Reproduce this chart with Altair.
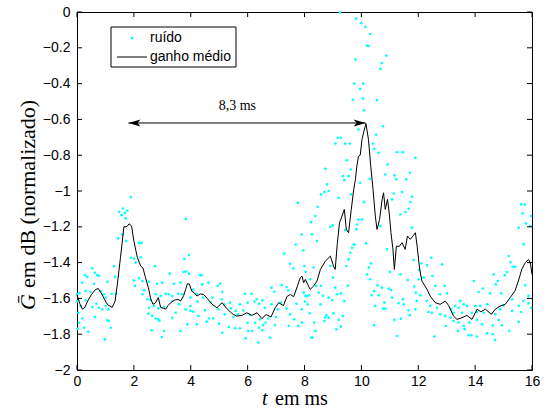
import altair as alt
import pandas as pd

# ---------------- data ----------------
line_t = [0.00, 0.10, 0.19, 0.28, 0.36, 0.50, 0.65, 0.75, 0.85, 0.95, 1.05, 1.12, 1.24, 1.34, 1.42,
          1.53, 1.65, 1.72, 1.77, 1.83, 1.92, 2.00, 2.12, 2.24, 2.32, 2.41, 2.51, 2.59, 2.67, 2.76,
          2.86, 2.94, 3.03, 3.12, 3.20, 3.29, 3.42, 3.55, 3.64, 3.75, 3.82, 3.88, 3.95, 4.04, 4.13,
          4.22, 4.33, 4.45, 4.58, 4.75, 4.92, 5.10, 5.22, 5.39, 5.50, 5.62, 5.80, 5.97, 6.15, 6.33,
          6.50, 6.65, 6.82, 6.97, 7.09, 7.26, 7.38, 7.50, 7.62, 7.76, 7.85, 7.91, 7.97, 8.03, 8.14,
          8.20, 8.32, 8.44, 8.56, 8.73, 8.91, 9.02, 9.08, 9.15, 9.23, 9.32, 9.40, 9.47, 9.55, 9.64,
          9.73, 9.79, 9.84, 9.90, 9.96, 10.02, 10.10, 10.16, 10.25, 10.33, 10.41, 10.49, 10.55, 10.64,
          10.73, 10.78, 10.84, 10.92, 10.99, 11.04, 11.11, 11.16, 11.23, 11.33, 11.43, 11.54, 11.62,
          11.72, 11.81, 11.90, 11.96, 12.05, 12.13, 12.31, 12.42, 12.60, 12.77, 12.95, 13.07, 13.24,
          13.36, 13.54, 13.71, 13.89, 14.07, 14.20, 14.36, 14.57, 14.71, 14.88, 15.06, 15.23, 15.40,
          15.52, 15.64, 15.76, 15.88, 15.94, 16.00]
line_v = [-1.58, -1.63, -1.66, -1.65, -1.62, -1.58, -1.55, -1.545, -1.57, -1.60, -1.63, -1.64, -1.65, -1.615, -1.52,
          -1.37, -1.20, -1.20, -1.196, -1.183, -1.196, -1.28, -1.37, -1.42, -1.43, -1.485, -1.54, -1.60, -1.633, -1.625,
          -1.595, -1.65, -1.655, -1.66, -1.64, -1.625, -1.61, -1.605, -1.615, -1.585, -1.55, -1.518, -1.52, -1.56, -1.57,
          -1.587, -1.575, -1.578, -1.60, -1.633, -1.652, -1.624, -1.648, -1.676, -1.69, -1.699, -1.695, -1.68, -1.695, -1.68,
          -1.713, -1.69, -1.704, -1.652, -1.624, -1.64, -1.59, -1.578, -1.59, -1.527, -1.485, -1.475, -1.512, -1.494, -1.531,
          -1.55, -1.531, -1.503, -1.438, -1.392, -1.364, -1.42, -1.438, -1.30, -1.178, -1.14, -1.103, -1.215, -1.233, -1.11,
          -0.992, -0.936, -0.862, -0.806, -0.80, -0.713, -0.66, -0.623, -0.713, -0.862, -0.992, -1.14, -1.215, -1.159,
          -1.047, -1.01, -1.103, -1.047, -1.14, -1.233, -1.326, -1.438, -1.308, -1.31, -1.289, -1.326, -1.252,
          -1.27, -1.252, -1.233, -1.308, -1.438, -1.503, -1.55, -1.587, -1.624, -1.633, -1.615, -1.64, -1.699,
          -1.717, -1.708, -1.695, -1.717, -1.66, -1.675, -1.66, -1.689, -1.66, -1.643, -1.633, -1.596, -1.559,
          -1.503, -1.438, -1.401, -1.382, -1.40, -1.466]

noise_0_4 = [
    (1.89, -1.034), (1.48, -1.116), (1.62, -1.098), (1.69, -1.122), (1.57, -1.135), (1.77, -1.109), (1.71, -1.153),
    (3.82, -1.157), (1.45, -1.265), (1.73, -1.28), (2.18, -1.29), (2.27, -1.29), (1.59, -1.243),
    (1.89, -1.373), (2.0, -1.377), (2.06, -1.4), (2.24, -1.37), (3.94, -1.358), (2.74, -1.42), (1.3, -1.42),
    (1.34, -1.48), (0.54, -1.432), (0.28, -1.47), (0.36, -1.48), (0.63, -1.457), (0.71, -1.47), (0.77, -1.475),
    (3.26, -1.462), (3.76, -1.451), (3.94, -1.462), (2.0, -1.5), (2.18, -1.488), (2.3, -1.503), (2.82, -1.518),
    (3.0, -1.512), (3.41, -1.518), (3.64, -1.512), (2.53, -1.507), (3.78, -1.38), (3.83, -1.45),
    (0.19, -1.512), (0.6, -1.518), (1.07, -1.507), (2.04, -1.53), (2.36, -1.555), (0.01, -1.577), (0.09, -1.57),
    (0.3, -1.559), (0.48, -1.563), (0.83, -1.559), (0.95, -1.577), (1.01, -1.596), (1.22, -1.574), (1.36, -1.574),
    (2.3, -1.577), (2.47, -1.605), (2.59, -1.61), (2.77, -1.577), (2.94, -1.587), (3.12, -1.574), (3.23, -1.577),
    (3.35, -1.587), (3.56, -1.574), (3.7, -1.577), (3.99, -1.596),
    (0.01, -1.615), (0.13, -1.643), (0.3, -1.611), (0.54, -1.648), (0.68, -1.63), (0.77, -1.652), (0.89, -1.661),
    (1.01, -1.643), (1.1, -1.661), (2.53, -1.652), (2.71, -1.643), (2.86, -1.656), (3.06, -1.648), (3.35, -1.615),
    (3.59, -1.633), (3.82, -1.661), (3.99, -1.643),
    (0.05, -1.68), (0.07, -1.736), (0.19, -1.712), (0.25, -1.764), (0.4, -1.786), (0.63, -1.704), (1.07, -1.723),
    (1.12, -1.726), (1.18, -1.764), (0.98, -1.829), (2.51, -1.685), (2.65, -1.698), (2.77, -1.712), (2.86, -1.717),
    (2.9, -1.726), (2.98, -1.816), (2.62, -1.778), (3.06, -1.782), (3.35, -1.708), (3.47, -1.68), (3.64, -1.782),
    (3.88, -1.745), (3.99, -1.67), (0.02, -1.77),
]

noise_4_8 = [
    (7.76, -1.066), (7.9, -1.243), (7.69, -1.299), (7.96, -1.332), (7.29, -1.35), (7.49, -1.406), (7.61, -1.432),
    (8.04, -1.451), (4.33, -1.47), (4.38, -1.47), (4.62, -1.512), (5.03, -1.518), (4.41, -1.522), (4.95, -1.531),
    (4.09, -1.55), (7.2, -1.525), (7.37, -1.537), (6.84, -1.54), (4.21, -1.574), (5.11, -1.563), (6.94, -1.563),
    (5.91, -1.574), (6.14, -1.574), (7.43, -1.555), (4.44, -1.596), (4.76, -1.596), (5.09, -1.605), (6.32, -1.605),
    (6.52, -1.611), (4.24, -1.618), (4.71, -1.624), (5.18, -1.633), (5.38, -1.624), (5.73, -1.633), (6.0, -1.624),
    (6.24, -1.618), (6.4, -1.63), (6.84, -1.633), (7.17, -1.624), (7.72, -1.63), (8.02, -1.618), (8.08, -1.587),
    (4.09, -1.674), (4.5, -1.667), (4.97, -1.661), (5.41, -1.656), (5.58, -1.67), (5.85, -1.667), (6.61, -1.652),
    (7.06, -1.661), (7.37, -1.656), (7.49, -1.689), (7.9, -1.661), (4.27, -1.698), (4.64, -1.712), (4.79, -1.712),
    (5.2, -1.689), (5.5, -1.704), (5.65, -1.689), (6.08, -1.693), (6.43, -1.717), (6.73, -1.712), (6.99, -1.704),
    (7.64, -1.717), (4.21, -1.745), (4.56, -1.73), (4.99, -1.741), (5.34, -1.76), (5.56, -1.767), (5.73, -1.767),
    (6.0, -1.736), (6.26, -1.736), (6.4, -1.764), (6.55, -1.749), (6.63, -1.736), (6.96, -1.749), (7.45, -1.754),
    (7.78, -1.754), (5.11, -1.792), (6.02, -1.782), (6.16, -1.782), (6.52, -1.778), (5.93, -1.823), (6.38, -1.847),
    (6.79, -1.819),
]

noise_8_12 = [
    (9.24, -0.003), (9.82, -0.037), (10.0, -0.062), (10.14, -0.084), (10.31, -0.123), (10.2, -0.188), (10.25, -0.19),
    (10.88, -0.244), (9.79, -0.266), (10.72, -0.285), (10.67, -0.318), (9.75, -0.4), (10.06, -0.4), (9.96, -0.43),
    (9.7, -0.49), (10.06, -0.484), (10.55, -0.493), (10.1, -0.549), (10.76, -0.638), (9.9, -0.657), (10.52, -0.685),
    (9.17, -0.703), (9.28, -0.703), (9.09, -0.735), (9.43, -0.735), (9.59, -0.735), (10.41, -0.735), (10.45, -0.765),
    (8.73, -0.876), (9.49, -0.828), (9.35, -0.917), (9.55, -0.917), (9.63, -0.88), (9.4, -0.939), (10.61, -0.787),
    (11.25, -0.783), (11.46, -0.783), (11.9, -0.815), (10.92, -0.852), (10.84, -0.908), (11.16, -0.913),
    (11.23, -0.935), (11.7, -0.898), (11.58, -0.935), (10.29, -0.932), (8.79, -0.963), (8.7, -1.006), (8.85, -1.0),
    (8.58, -1.019), (9.2, -1.038), (9.63, -1.019), (9.96, -0.954), (10.1, -1.062), (11.08, -1.047), (11.43, -1.006),
    (11.14, -1.014), (11.78, -1.032), (11.72, -1.062), (11.37, -1.131), (11.55, -1.118), (11.66, -1.099),
    (8.38, -1.14), (8.23, -1.174), (8.46, -1.088), (9.9, -1.159), (10.02, -1.159), (9.85, -1.187), (8.91, -1.2),
    (9.0, -1.192), (9.43, -1.218), (10.67, -1.196), (9.82, -1.214), (11.78, -1.205), (8.26, -1.242), (8.44, -1.28),
    (9.73, -1.298), (9.76, -1.3), (9.67, -1.317), (10.17, -1.293), (10.9, -1.326), (9.61, -1.345), (9.55, -1.382),
    (11.84, -1.386), (7.99, -1.419), (8.32, -1.428), (8.91, -1.419), (9.47, -1.419), (10.34, -1.404), (10.26, -1.428),
    (11.0, -1.452), (11.37, -1.466), (10.2, -1.466), (10.31, -1.493), (8.2, -1.493), (9.0, -1.484), (8.41, -1.53),
    (8.58, -1.53), (9.08, -1.54), (9.52, -1.53), (10.57, -1.527), (10.72, -1.54), (10.96, -1.545), (11.63, -1.497),
    (11.86, -1.534), (7.97, -1.568), (8.03, -1.586), (8.15, -1.583), (8.5, -1.568), (8.65, -1.586), (8.85, -1.596),
    (8.97, -1.609), (9.14, -1.577), (9.28, -1.572), (9.4, -1.614), (10.37, -1.583), (10.61, -1.583), (10.45, -1.559),
    (10.81, -1.624), (11.04, -1.553), (11.08, -1.596), (11.31, -1.627), (11.49, -1.633), (11.46, -1.605),
    (8.11, -1.633), (8.56, -1.633), (10.49, -1.642), (10.76, -1.657), (10.84, -1.657), (11.66, -1.666),
    (8.18, -1.683), (8.77, -1.694), (9.02, -1.683), (9.35, -1.698), (11.7, -1.694), (8.73, -1.707), (8.7, -1.726),
    (8.85, -1.707), (9.2, -1.72), (11.16, -1.72), (11.39, -1.713), (7.91, -1.735), (8.34, -1.735), (10.45, -1.75),
    (9.12, -1.772), (9.28, -1.758), (8.38, -1.782), (8.24, -1.819), (8.28, -1.819), (11.25, -1.81),
]

noise_12_16 = [
    (15.62, -1.075), (15.74, -1.075), (15.67, -1.125), (15.97, -1.14), (15.79, -1.181), (15.53, -1.205),
    (15.94, -1.196), (15.705, -1.298), (15.18, -1.363), (15.24, -1.397), (15.32, -1.423), (15.41, -1.423),
    (12.46, -1.373), (12.11, -1.404), (12.31, -1.415), (12.83, -1.41), (12.04, -1.441), (15.12, -1.453),
    (12.5, -1.475), (14.65, -1.466), (15.04, -1.471), (12.01, -1.493), (12.19, -1.484), (14.8, -1.503),
    (14.73, -1.521), (13.95, -1.503), (12.6, -1.53), (12.93, -1.53), (14.275, -1.545), (15.76, -1.527),
    (11.92, -1.568), (12.07, -1.583), (12.77, -1.577), (13.01, -1.572), (14.12, -1.564), (14.53, -1.572),
    (14.92, -1.572), (15.88, -1.586), (11.95, -1.614), (12.3, -1.614), (13.48, -1.614), (13.6, -1.633),
    (15.7, -1.614), (15.88, -1.627), (15.97, -1.652), (11.9, -1.661), (12.42, -1.642), (12.66, -1.652),
    (13.3, -1.642), (13.42, -1.652), (13.71, -1.642), (14.01, -1.642), (14.18, -1.642), (14.42, -1.633),
    (15.0, -1.639), (15.3, -1.605), (15.53, -1.642), (12.36, -1.676), (12.48, -1.68), (12.77, -1.689),
    (12.95, -1.698), (13.13, -1.707), (13.16, -1.661), (13.24, -1.68), (13.54, -1.68), (13.89, -1.68),
    (14.06, -1.676), (14.3, -1.68), (14.71, -1.689), (14.88, -1.661), (15.3, -1.67), (15.62, -1.676),
    (12.97, -1.754), (13.24, -1.726), (13.42, -1.735), (13.6, -1.754), (13.79, -1.735), (14.06, -1.72),
    (14.24, -1.745), (14.62, -1.75), (14.83, -1.72), (14.94, -1.75), (15.2, -1.782), (15.53, -1.731),
    (13.4, -1.782), (13.63, -1.772), (13.77, -1.806), (13.87, -1.806), (14.06, -1.813), (14.42, -1.795),
    (14.62, -1.8), (14.7, -1.832), (12.57, -1.813),
]

x_ticks = [0, 2, 4, 6, 8, 10, 12, 14, 16]
y_ticks = [-2, -1.8, -1.6, -1.4, -1.2, -1, -0.8, -0.6, -0.4, -0.2, 0]

arrow_t = [1.81, 10.15]
arrow_v = -0.62
arrow_label = "8,3 ms"
arrow_label_t = 5.64
arrow_label_v = -0.55

legend_labels = ["ruído", "ganho médio"]
x_title = ["t", "em ms"]
y_title = ["Ḡ", "em dB (normalizado)"]

# ---------------- chart ----------------
W, H = 455, 358
CYAN = "#00FFFF"
SANS = "Liberation Sans"
SERIF = "Liberation Serif"

xs = alt.Scale(domain=[0, 16], nice=False, zero=False)
ys = alt.Scale(domain=[-2, 0], nice=False, zero=False)

minus_expr = "replace(format(datum.value, '~g'), '-', '\u2212')"

x_axis = alt.Axis(values=x_ticks, title=None, ticks=False, domain=False, grid=False,
                  labelFont=SANS, labelFontSize=14, labelColor="black", labelPadding=4,
                  labelFlush=False, labelOverlap=False, labelExpr=minus_expr)
y_axis = alt.Axis(values=y_ticks, title=None, ticks=False, domain=False, grid=False,
                  labelFont=SANS, labelFontSize=14, labelColor="black", labelPadding=7,
                  labelFlush=False, labelOverlap=False, labelExpr=minus_expr)


def X(field="t"):
    return alt.X(f"{field}:Q", scale=xs, axis=x_axis, title=None)


def Y(field="v"):
    return alt.Y(f"{field}:Q", scale=ys, axis=y_axis, title=None)


noise_df = pd.DataFrame(noise_0_4 + noise_4_8 + noise_8_12 + noise_12_16, columns=["t", "v"])
line_df = pd.DataFrame({"t": line_t, "v": line_v})
xt_df = pd.DataFrame({"t": x_ticks})
yt_df = pd.DataFrame({"v": y_ticks})
arrow_df = pd.DataFrame({"t": [arrow_t[0]], "t2": [arrow_t[1]], "v": [arrow_v]})
heads_df = pd.DataFrame({
    "t": arrow_t,
    "v": [arrow_v, arrow_v],
    "shape": ["M0,0L2,-0.6L1.5,0L2,0.6Z", "M0,0L-2,-0.6L-1.5,0L-2,0.6Z"],
})
label_df = pd.DataFrame({"t": [arrow_label_t], "v": [arrow_label_v], "label": [arrow_label]})
one = pd.DataFrame({"k": [0]})

noise = alt.Chart(noise_df).mark_circle(color=CYAN, size=7, opacity=1).encode(x=X(), y=Y())
line = alt.Chart(line_df).mark_line(color="black", strokeWidth=1).encode(x=X(), y=Y())

tick_bottom = alt.Chart(xt_df).mark_rule(color="black", strokeWidth=1).encode(
    x=X(), y=alt.value(H), y2=alt.value(H - 5))
tick_top = alt.Chart(xt_df).mark_rule(color="black", strokeWidth=1).encode(
    x=X(), y=alt.value(0), y2=alt.value(5))
tick_left = alt.Chart(yt_df).mark_rule(color="black", strokeWidth=1).encode(
    y=Y(), x=alt.value(0), x2=alt.value(5))
tick_right = alt.Chart(yt_df).mark_rule(color="black", strokeWidth=1).encode(
    y=Y(), x=alt.value(W - 5), x2=alt.value(W))

arrow = alt.Chart(arrow_df).mark_rule(color="black", strokeWidth=1).encode(
    x=X(), x2="t2:Q", y=Y())
heads = alt.Chart(heads_df).mark_point(filled=True, size=144, color="black", opacity=1, strokeWidth=0).encode(
    x=X(), y=Y(), shape=alt.Shape("shape:N", scale=None, legend=None))
alabel = alt.Chart(label_df).mark_text(font=SERIF, fontSize=14, color="black", baseline="alphabetic",
                                       align="center").encode(x=X(), y=Y(), text="label:N")

# legend box
leg_box = alt.Chart(one).mark_rect(fill="white", stroke="black", strokeWidth=1).encode(
    x=alt.value(34), x2=alt.value(159), y=alt.value(15), y2=alt.value(55))
leg_dot = alt.Chart(one).mark_circle(color=CYAN, size=7, opacity=1).encode(
    x=alt.value(55), y=alt.value(26))
leg_line = alt.Chart(one).mark_rule(color="black", strokeWidth=1).encode(
    x=alt.value(40), x2=alt.value(70), y=alt.value(45))
leg_t1 = alt.Chart(one).mark_text(text=legend_labels[0], font=SANS, fontSize=14, color="black",
                                  align="left", baseline="middle").encode(x=alt.value(73), y=alt.value(26))
leg_t2 = alt.Chart(one).mark_text(text=legend_labels[1], font=SANS, fontSize=14, color="black",
                                  align="left", baseline="middle").encode(x=alt.value(73), y=alt.value(45))

# axis titles
xt1 = alt.Chart(one).mark_text(text=x_title[0], font=SERIF, fontSize=20, fontStyle="italic", color="black",
                               align="left", baseline="alphabetic").encode(x=alt.value(185), y=alt.value(393))
xt2 = alt.Chart(one).mark_text(text=x_title[1], font=SERIF, fontSize=20, color="black",
                               align="left", baseline="alphabetic").encode(x=alt.value(198), y=alt.value(393))
yt1 = alt.Chart(one).mark_text(text=y_title[0], font=SERIF, fontSize=22, fontStyle="italic", color="black",
                               align="center", baseline="alphabetic", angle=270).encode(
    x=alt.value(-42), y=alt.value(290))
yt2 = alt.Chart(one).mark_text(text=y_title[1], font=SERIF, fontSize=22, color="black",
                               align="left", baseline="alphabetic", angle=270).encode(
    x=alt.value(-42), y=alt.value(276))

chart = alt.layer(
    noise, line, tick_bottom, tick_top, tick_left, tick_right,
    arrow, heads, alabel,
    leg_box, leg_dot, leg_line, leg_t1, leg_t2,
    xt1, xt2, yt1, yt2,
).properties(
    width=W, height=H,
    autosize=alt.AutoSizeParams(type="none"),
    padding={"left": 77, "top": 12, "right": 18, "bottom": 38},
    background="white",
).configure_view(stroke="black", strokeWidth=1)

chart.save("out.html", embed_options={"renderer": "svg", "actions": False})
